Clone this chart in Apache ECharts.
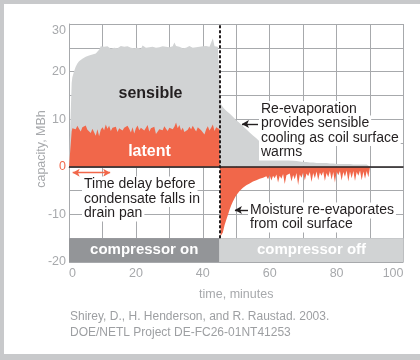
<!DOCTYPE html>
<html>
<head>
<meta charset="utf-8">
<script src="https://cdn.jsdelivr.net/npm/echarts@6.0.0/dist/echarts.min.js"></script>
<style>
  html, body { margin: 0; padding: 0; background: #c8c9cb; }
  #panel { position: absolute; left: 4px; top: 4px; width: 416px; height: 350px; background: #fff; }
  #chart { position: absolute; left: 0; top: 0; width: 420px; height: 360px; }
</style>
</head>
<body>
<div id="panel"></div>
<div id="chart"></div>
<script>
// Coil capacity over one compressor cycle (MBh), sampled in minutes.
const minutes = [
  0, 0.5, 0.8,
  1, 1.5, 2, 2.5, 3, 3.5, 4, 4.5, 5, 5.5, 6, 6.5, 7, 7.5, 8, 8.5, 9, 9.5,
  10, 10.5, 11, 11.5, 12, 12.5, 13, 13.5, 14, 14.5, 15, 15.5, 16, 16.5, 17, 17.5, 18, 18.5, 19, 19.5,
  20, 20.5, 21, 21.5, 22, 22.5, 23, 23.5, 24, 24.5, 25, 25.5, 26, 26.5, 27, 27.5, 28, 28.5, 29, 29.5,
  30, 30.5, 31, 31.5, 32, 32.5, 33, 33.5, 34, 34.5, 35, 35.5, 36, 36.5, 37, 37.5, 38, 38.5, 39, 39.5,
  40, 40.5, 41, 41.5, 42, 42.5, 43, 43.5, 44, 44.5, 45,
  45.3,
  45.5, 46, 46.5, 47, 47.5, 48, 48.5, 49, 49.5,
  50, 50.5, 51, 51.5, 52, 52.5, 53, 53.5, 54, 54.5, 55, 55.5, 56, 56.5, 57, 57.5, 58, 58.5, 59, 59.5,
  60, 60.5, 61, 61.5, 62, 62.5, 63, 63.5, 64, 64.5, 65, 65.5, 66, 66.5, 67, 67.5, 68, 68.5, 69, 69.5,
  70, 70.5, 71, 71.5, 72, 72.5, 73, 73.5, 74, 74.5, 75, 75.5, 76, 76.5, 77, 77.5, 78, 78.5, 79, 79.5,
  80, 80.5, 81, 81.5, 82, 82.5, 83, 83.5, 84, 84.5, 85, 85.5, 86, 86.5, 87, 87.5, 88, 88.5, 89, 89.5,
  90
];

// Latent capacity: positive while condensing, negative while moisture re-evaporates.
const latent = [
  0, 0, 7.4,
  8.1, 8.4, 7.9, 8.6, 8.0, 7.4, 8.3, 8.0, 8.7, 7.8, 8.2, 7.1, 8.0, 7.6, 6.5, 7.9, 6.4, 7.8,
  8.3, 7.7, 8.9, 8.0, 8.6, 7.5, 8.2, 7.8, 8.4, 7.3, 8.1, 8.5, 7.6, 8.2, 7.9, 8.6, 8.0, 7.2, 8.3, 7.0,
  8.1, 8.7, 7.7, 8.2, 8.5, 7.6, 8.0, 8.8, 7.4, 8.1, 7.8, 8.4, 6.9, 6.6, 7.9, 8.3, 7.7, 8.5, 8.0, 7.5,
  8.2, 8.6, 7.9, 8.4, 9.3, 8.1, 8.8, 7.6, 8.2, 7.3, 7.0, 7.8, 8.4, 7.9, 8.6, 8.0, 7.4, 8.3, 8.7, 7.7,
  8.1, 6.8, 7.9, 8.5, 7.6, 8.2, 8.9, 7.5, 8.3, 8.6, 7.9,
  -14.6,
  -15.0, -13.8, -12.3, -11.2, -10.1, -9.0, -8.1, -7.3, -6.6,
  -6.0, -5.6, -5.1, -4.8, -4.4, -4.3, -3.9, -4.1, -3.5, -3.7, -3.1, -3.4, -2.8, -3.1, -2.5, -2.9, -2.3, -2.7, -2.0, -2.6,
  -1.8, -2.9, -1.9, -2.4, -1.6, -3.3, -1.9, -2.5, -1.5, -3.6, -1.8, -2.2, -1.4, -3.1, -1.7, -2.6, -1.3, -3.8, -1.6, -2.3,
  -1.2, -2.9, -1.4, -2.0, -1.1, -3.2, -1.3, -2.4, -1.0, -2.8, -1.2, -1.9, -1.0, -3.0, -1.3, -2.2, -0.9, -2.7, -1.1, -3.3,
  -1.0, -1.8, -0.9, -2.9, -1.1, -2.1, -0.8, -3.1, -1.0, -2.4, -0.9, -3.0, -1.1, -1.9, -0.8, -2.8, -1.0, -2.5, -0.9, -2.2,
  0
];

// Sensible capacity, drawn on top of the positive latent capacity.
const sensible = [
  0, 0, 10.2,
  10.7, 11.6, 13.1, 13.1, 14.2, 15.0, 14.4, 14.9, 14.4, 15.4, 15.2, 16.4, 15.6, 16.1, 17.3, 16.1, 18.2, 17.5,
  16.7, 17.5, 16.0, 17.3, 16.5, 17.3, 17.0, 17.2, 16.9, 17.6, 17.0, 16.9, 17.4, 17.0, 16.9, 16.7, 17.1, 17.8, 17.1, 17.9,
  17.1, 16.3, 17.6, 16.6, 17.0, 17.5, 17.0, 16.5, 17.7, 16.8, 17.4, 17.0, 18.1, 18.6, 17.2, 16.6, 17.6, 16.5, 17.2, 17.9,
  16.9, 16.4, 17.4, 17.7, 16.1, 16.9, 16.4, 17.5, 16.7, 18.0, 18.0, 17.4, 17.0, 17.2, 16.4, 17.3, 17.7, 16.6, 16.5, 17.3,
  17.2, 18.3, 17.5, 16.5, 17.6, 16.9, 18.1, 17.8, 16.7, 16.6, 17.2,
  14.0,
  13.1, 12.5, 12.1, 11.8, 11.5, 11.2, 10.8, 10.5, 10.1,
  9.8, 9.5, 9.2, 8.8, 8.5, 8.2, 7.9, 7.5, 7.2, 6.9, 6.6, 6.3, 6.0, 5.6, 5.3, 4.9, 4.6, 4.2, 3.9, 3.6,
  3.3, 3.1, 2.8, 2.6, 2.4, 2.2, 2.0, 1.9, 1.8, 1.7, 1.6, 1.5, 1.4, 1.4, 1.3, 1.3, 1.2, 1.2, 1.1, 1.1,
  1.0, 1.0, 1.0, 0.9, 0.9, 0.9, 0.9, 0.8, 0.8, 0.9, 0.8, 0.8, 0.8, 0.7, 0.8, 0.7, 0.7, 0.7, 0.7, 0.7,
  0.6, 0.7, 0.6, 0.6, 0.6, 0.6, 0.6, 0.5, 0.6, 0.5, 0.5, 0.5, 0.5, 0.5, 0.5, 0.5, 0.5, 0.4, 0.5, 0.4,
  0
];

// Compressor cycle phases along the time axis.
const phaseNames = ['compressor on', 'compressor off'];
const phaseBounds = [0, 45, 100];

// Axis ticks.
const xTicks = [0, 20, 40, 60, 80, 100];
const yTicks = [-20, -10, 0, 10, 20, 30];

const FONT = '"Liberation Sans", Arial, Helvetica, sans-serif';
const ORANGE = '#f1674a';
const LIGHT_GRAY = '#d1d3d4';
const DARK_GRAY = '#939598';
const INK = '#231f20';
const AXIS_GRAY = '#a7a9ac';

// Sensible band sits on top of the condensing (positive) latent band;
// once latent turns negative the sensible band starts again from zero.
const sensibleTop = minutes.map((t, i) => [t, sensible[i] + Math.max(latent[i], 0)]);
const latentPoints = minutes.map((t, i) => [t, latent[i]]);

const chart = echarts.init(document.getElementById('chart'), null, { renderer: 'canvas' });

function noteLine(x, y, text) {
  return {
    type: 'text', x: x, y: y, z: 100, silent: true,
    style: {
      text: text, font: '14px ' + FONT, fill: INK,
      backgroundColor: '#fff', padding: [1, 2, 1, 2],
      align: 'left', verticalAlign: 'middle'
    }
  };
}

function arrowLine(x1, x2, y, color, both) {
  return [
    { coord: [x1, y], symbol: 'arrow', symbolSize: [6, 7], lineStyle: { color: color, width: 1.4, type: 'solid' } },
    { coord: [x2, y], symbol: both ? 'arrow' : 'none', symbolSize: [6, 7] }
  ];
}

const option = {
  animation: false,
  backgroundColor: 'transparent',
  grid: { left: 69, right: 16.5, top: 24, bottom: 98 },
  xAxis: {
    type: 'value', min: 0, max: 100, interval: 10,
    name: 'time, minutes', nameLocation: 'middle', nameGap: 26,
    nameTextStyle: { color: AXIS_GRAY, fontSize: 12.5, fontFamily: FONT },
    axisLine: { show: true, lineStyle: { color: AXIS_GRAY, width: 1 } },
    axisTick: { show: false },
    splitLine: { show: true, lineStyle: { color: AXIS_GRAY, width: 1 } },
    axisLabel: {
      color: AXIS_GRAY, fontSize: 12.5, fontFamily: FONT, margin: 5,
      alignMinLabel: 'left', alignMaxLabel: 'right',
      formatter: v => (xTicks.indexOf(Number(v)) >= 0 ? String(v) : '')
    }
  },
  yAxis: {
    type: 'value', min: -20, max: 30, interval: 5,
    axisLine: { show: true, lineStyle: { color: AXIS_GRAY, width: 1 } },
    axisTick: { show: false },
    splitLine: { show: true, lineStyle: { color: AXIS_GRAY, width: 1 } },
    axisLabel: {
      fontSize: 12.5, fontFamily: FONT, margin: 3,
      verticalAlignMaxLabel: 'top',
      color: v => (Number(v) === 0 ? ORANGE : AXIS_GRAY),
      formatter: v => (yTicks.indexOf(Number(v)) >= 0 ? String(v) : '')
    }
  },
  series: [
    {
      name: 'sensible', type: 'line',
      data: sensibleTop,
      symbol: 'none', showSymbol: false, silent: true,
      lineStyle: { width: 0, opacity: 0 },
      areaStyle: { color: LIGHT_GRAY, opacity: 1, origin: 0 },
      z: 2,
      markArea: {
        silent: true,
        data: phaseNames.map((name, i) => [
          {
            name: name, xAxis: phaseBounds[i], yAxis: -20,
            itemStyle: { color: i === 0 ? DARK_GRAY : LIGHT_GRAY, opacity: 1 }
          },
          { xAxis: phaseBounds[i + 1], yAxis: -15 }
        ]),
        label: {
          show: true, position: 'inside', color: '#fff',
          fontFamily: FONT, fontWeight: 'bold', fontSize: 15
        }
      }
    },
    {
      name: 'latent', type: 'line',
      data: latentPoints,
      symbol: 'none', showSymbol: false, silent: true,
      lineStyle: { width: 0, opacity: 0 },
      areaStyle: { color: ORANGE, opacity: 1, origin: 0 },
      z: 3,
      markLine: {
        silent: true, symbol: ['none', 'none'],
        label: { show: false },
        emphasis: { disabled: true },
        data: [
          { yAxis: 0, lineStyle: { color: INK, width: 1.6, type: 'solid' } },
          [
            { coord: [phaseBounds[1], -15], lineStyle: { color: INK, width: 2, type: [3, 2] } },
            { coord: [phaseBounds[1], 30] }
          ],
          arrowLine(1.1, 12.3, -1.24, ORANGE, true),
          arrowLine(51.7, 56.5, 9.0, INK, false),
          arrowLine(49.6, 53.8, -9.1, INK, false)
        ]
      }
    }
  ],
  graphic: [
    {
      type: 'text', x: 150.5, y: 94, z: 100, silent: true,
      style: { text: 'sensible', font: 'bold 16px ' + FONT, fill: INK, align: 'center', verticalAlign: 'middle' }
    },
    {
      type: 'text', x: 149.5, y: 152, z: 100, silent: true,
      style: { text: 'latent', font: 'bold 16px ' + FONT, fill: '#fff', align: 'center', verticalAlign: 'middle' }
    },
    {
      type: 'text', x: 42, y: 149, z: 100, silent: true, rotation: Math.PI / 2,
      style: { text: 'capacity, MBh', font: '12.5px ' + FONT, fill: AXIS_GRAY, align: 'center', verticalAlign: 'middle' }
    },
    noteLine(82, 184.5, 'Time delay before'),
    noteLine(82, 199, 'condensate falls in'),
    noteLine(82, 213.5, 'drain pan'),
    noteLine(259, 109, 'Re-evaporation'),
    noteLine(259, 123.5, 'provides sensible'),
    noteLine(259, 138, 'cooling as coil surface'),
    noteLine(259, 152.5, 'warms'),
    noteLine(248, 210.5, 'Moisture re-evaporates'),
    noteLine(248, 224.5, 'from coil surface'),
    {
      type: 'text', x: 70, y: 317, z: 100, silent: true,
      style: { text: 'Shirey, D., H. Henderson, and R. Raustad. 2003.', font: '12px ' + FONT, fill: '#9d9fa2', align: 'left', verticalAlign: 'middle' }
    },
    {
      type: 'text', x: 70, y: 333, z: 100, silent: true,
      style: { text: 'DOE/NETL Project DE-FC26-01NT41253', font: '12px ' + FONT, fill: '#9d9fa2', align: 'left', verticalAlign: 'middle' }
    }
  ]
};

chart.setOption(option);
</script>
</body>
</html>
